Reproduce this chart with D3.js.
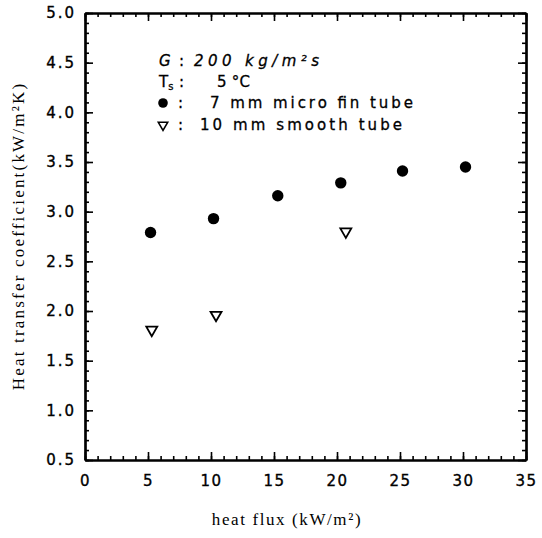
<!DOCTYPE html>
<html>
<head>
<meta charset="utf-8">
<script src="https://cdn.jsdelivr.net/npm/d3@7"></script>
<style>
  html, body { margin: 0; padding: 0; background: #fff; }
  svg { display: block; }
</style>
</head>
<body>
<script>
// Heat transfer coefficient vs. heat flux, G = 200 kg/m²s, Ts = 5 °C
const microFinFlux = [5.2, 10.2, 15.3, 20.3, 25.2, 30.2];
const microFinHTC  = [2.79, 2.93, 3.16, 3.29, 3.41, 3.45];
const smoothFlux   = [5.3, 10.4, 20.7];
const smoothHTC    = [1.81, 1.96, 2.80];

const xMajorTicks = [0, 5, 10, 15, 20, 25, 30, 35];
const yMajorTicks = [0.5, 1.0, 1.5, 2.0, 2.5, 3.0, 3.5, 4.0, 4.5, 5.0];
const xTitle = "heat flux (kW/m²)";
const yTitle = "Heat transfer coefficient(kW/m²K)";

const W = 542, H = 538;
const plot = { left: 85, right: 526, top: 13, bottom: 460 };

const svg = d3.select("body").append("svg")
  .attr("width", W).attr("height", H)
  .style("background", "#fff");

const x = d3.scaleLinear().domain([0, 35]).range([plot.left, plot.right]);
const y = d3.scaleLinear().domain([0.5, 5.0]).range([plot.bottom, plot.top]);

const xMinor = d3.range(0, 35.01, 1);
const yMinor = d3.range(5, 51, 1).map(v => v / 10);

const tickFont = "'DejaVu Sans', sans-serif";
const serif = "'Liberation Serif', 'Times New Roman', serif";

function styleAxis(g) {
  g.select(".domain").attr("stroke", "#000").attr("stroke-width", 2.2);
  g.selectAll(".tick line").attr("stroke", "#000").attr("stroke-width", 1.6);
}

// minor ticks (inward), all four sides
svg.append("g").attr("transform", `translate(0,${plot.bottom})`)
  .call(d3.axisBottom(x).tickValues(xMinor).tickSize(-4).tickSizeOuter(0).tickFormat(""))
  .call(styleAxis);
svg.append("g").attr("transform", `translate(0,${plot.top})`)
  .call(d3.axisTop(x).tickValues(xMinor).tickSize(-4).tickSizeOuter(0).tickFormat(""))
  .call(styleAxis);
svg.append("g").attr("transform", `translate(${plot.left},0)`)
  .call(d3.axisLeft(y).tickValues(yMinor).tickSize(-4).tickSizeOuter(0).tickFormat(""))
  .call(styleAxis);
svg.append("g").attr("transform", `translate(${plot.right},0)`)
  .call(d3.axisRight(y).tickValues(yMinor).tickSize(-4).tickSizeOuter(0).tickFormat(""))
  .call(styleAxis);

// major ticks with labels
const xAxisG = svg.append("g").attr("transform", `translate(0,${plot.bottom})`)
  .call(d3.axisBottom(x).tickValues(xMajorTicks).tickSize(-8).tickSizeOuter(0)
    .tickPadding(15).tickFormat(d3.format("d")))
  .call(styleAxis);
xAxisG.selectAll("text")
  .attr("font-family", tickFont).attr("font-size", 15)
  .attr("letter-spacing", "1.5px").attr("fill", "#000")
  .attr("stroke", "#000").attr("stroke-width", 0.35);

svg.append("g").attr("transform", `translate(0,${plot.top})`)
  .call(d3.axisTop(x).tickValues(xMajorTicks).tickSize(-8).tickSizeOuter(0).tickFormat(""))
  .call(styleAxis);

const yAxisG = svg.append("g").attr("transform", `translate(${plot.left},0)`)
  .call(d3.axisLeft(y).tickValues(yMajorTicks).tickSize(-8).tickSizeOuter(0)
    .tickPadding(9).tickFormat(d3.format(".1f")))
  .call(styleAxis);
yAxisG.selectAll("text")
  .attr("font-family", tickFont).attr("font-size", 15)
  .attr("letter-spacing", "2px").attr("fill", "#000")
  .attr("stroke", "#000").attr("stroke-width", 0.35);

svg.append("g").attr("transform", `translate(${plot.right},0)`)
  .call(d3.axisRight(y).tickValues(yMajorTicks).tickSize(-8).tickSizeOuter(0).tickFormat(""))
  .call(styleAxis);

// axis titles
svg.append("text")
  .attr("x", 287).attr("y", 525)
  .attr("text-anchor", "middle")
  .attr("font-family", serif)
  .attr("font-size", 17).attr("letter-spacing", "1.6px")
  .text(xTitle);

svg.append("text")
  .attr("transform", `translate(24,236) rotate(-90)`)
  .attr("text-anchor", "middle")
  .attr("font-family", serif)
  .attr("font-size", 17).attr("letter-spacing", "2.2px")
  .text(yTitle);

// data marks
const microFin = microFinFlux.map((f, i) => ({ f, h: microFinHTC[i] }));
const smooth = smoothFlux.map((f, i) => ({ f, h: smoothHTC[i] }));

svg.append("g").selectAll("circle").data(microFin).join("circle")
  .attr("cx", d => x(d.f)).attr("cy", d => y(d.h))
  .attr("r", 5.7).attr("fill", "#000");

const tri = d3.symbol().type(d3.symbolTriangle).size(52);
svg.append("g").selectAll("path").data(smooth).join("path")
  .attr("d", tri)
  .attr("transform", d => `translate(${x(d.f)},${y(d.h)}) rotate(180)`)
  .attr("fill", "#fff").attr("stroke", "#000").attr("stroke-width", 1.8);

// conditions / symbol key
const leg = svg.append("g")
  .attr("font-family", tickFont).attr("font-size", 15).attr("fill", "#000")
  .attr("stroke", "#000").attr("stroke-width", 0.3);

function legText(xp, yp, str, len, italic) {
  const t = leg.append("text").attr("x", xp).attr("y", yp).text(str);
  if (len) t.attr("textLength", len).attr("lengthAdjust", "spacing");
  if (italic) t.attr("font-style", "italic");
  return t;
}

// row 1: G
legText(159, 66, "G", null, true);
legText(179, 66, ":");
legText(194, 66, "200 kg/m²s", 125, true);

// row 2: Ts
const tRow = leg.append("text").attr("x", 159).attr("y", 87);
tRow.append("tspan").text("T");
tRow.append("tspan").attr("font-size", 10).attr("dy", 3).text("s");
legText(179, 87, ":");
legText(217, 87, "5 °C", 33);

// row 3: micro fin symbol
leg.append("circle").attr("cx", 163).attr("cy", 103).attr("r", 4.8)
  .attr("fill", "#000").attr("stroke", "none");
legText(178, 108, ":");
legText(210, 108, "7 mm micro fin tube", 203);

// row 4: smooth tube symbol
leg.append("path")
  .attr("d", d3.symbol().type(d3.symbolTriangle).size(38))
  .attr("transform", "translate(163,125) rotate(180)")
  .attr("fill", "#fff").attr("stroke", "#000").attr("stroke-width", 1.6);
legText(178, 130, ":");
legText(200, 130, "10 mm smooth tube", 202);
</script>
</body>
</html>
